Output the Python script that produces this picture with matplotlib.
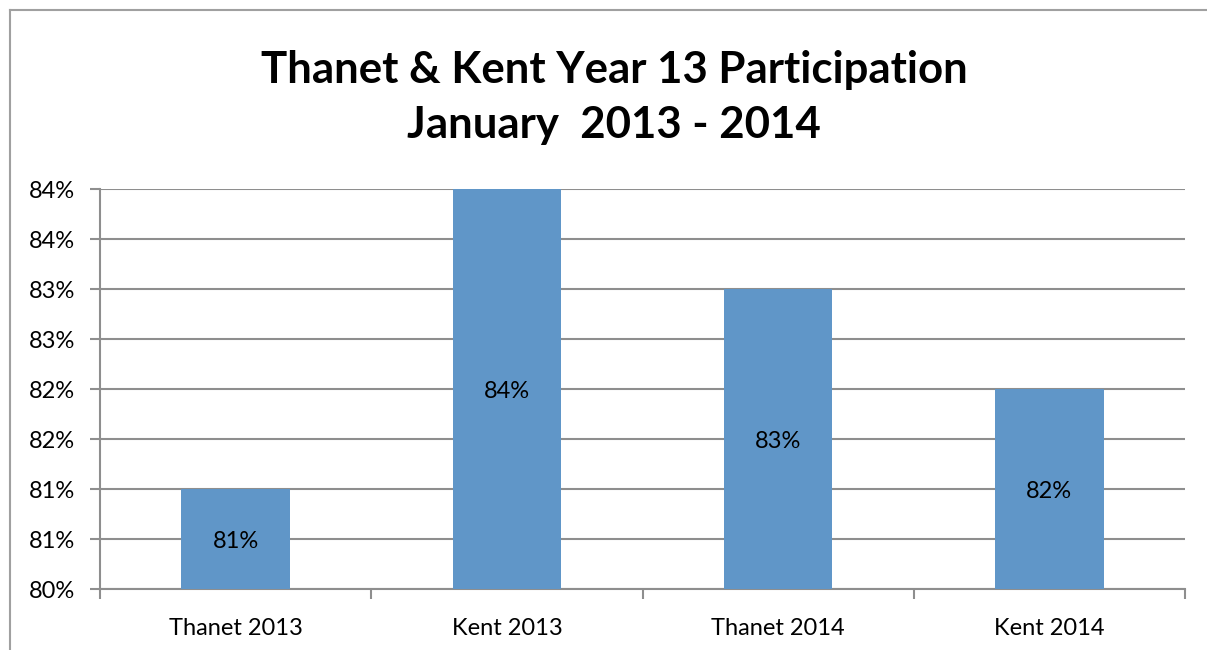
import matplotlib
matplotlib.use("Agg")
import matplotlib.pyplot as plt
from matplotlib.lines import Line2D

categories = ["Thanet 2013", "Kent 2013", "Thanet 2014", "Kent 2014"]
values = [81.0, 84.0, 83.0, 82.0]
bar_labels = ["81%", "84%", "83%", "82%"]
y_ticks = [80.0, 80.5, 81.0, 81.5, 82.0, 82.5, 83.0, 83.5, 84.0]
y_tick_labels = ["80%", "81%", "81%", "82%", "82%", "83%", "83%", "84%", "84%"]
title_lines = ["Thanet & Kent Year 13 Participation", "January  2013 - 2014"]

W, H = 1207, 650
fig = plt.figure(figsize=(W / 100, H / 100), dpi=100)
FONT = ["Lato", "DejaVu Sans"]
plt.rcParams["font.family"] = FONT

grid_c = "#8E8E8E"
bar_c = "#6096C8"
FS = 17

ax = fig.add_axes([100 / W, (H - 589) / H, 1085 / W, 400 / H])
x = list(range(len(categories)))
ax.bar(x, values, width=0.4, bottom=0, color=bar_c, zorder=3)
ax.set_xlim(-0.5, len(categories) - 0.5)
ax.set_ylim(80, 84)
ax.set_yticks(y_ticks)
ax.set_yticklabels(y_tick_labels, fontsize=FS)
ax.set_xticks(x)
ax.set_xticklabels(categories, fontsize=FS)
ax.tick_params(axis="x", length=0, pad=21)
ax.tick_params(axis="y", length=7, color=grid_c, width=1.5, pad=11)
ax.set_xticks([i - 0.5 for i in range(len(categories) + 1)], minor=True)
ax.tick_params(axis="x", which="minor", length=7, color=grid_c, width=1.5)
ax.grid(axis="y", color=grid_c, linewidth=1.5, zorder=0)
for s in ["top", "right"]:
    ax.spines[s].set_visible(False)
for s in ["left", "bottom"]:
    ax.spines[s].set_color(grid_c)
    ax.spines[s].set_linewidth(1.5)

for xi, v, lab in zip(x, values, bar_labels):
    ax.text(xi, (80 + v) / 2, lab, ha="center", va="center_baseline", fontsize=FS, zorder=4)

fig.text(614 / W, 1 - 70 / H, title_lines[0], ha="center", va="center",
         fontsize=31.5, fontweight="bold")
fig.text(614 / W, 1 - 125 / H, title_lines[1], ha="center", va="center",
         fontsize=31.5, fontweight="bold")

fig.add_artist(Line2D([10 / W, 10 / W], [1 - 10 / H, 0], transform=fig.transFigure,
                      color="#A0A0A0", linewidth=1.5))
fig.add_artist(Line2D([10 / W, 1], [1 - 10 / H, 1 - 10 / H], transform=fig.transFigure,
                      color="#A0A0A0", linewidth=1.5))

fig.savefig("out.png", dpi=100)
